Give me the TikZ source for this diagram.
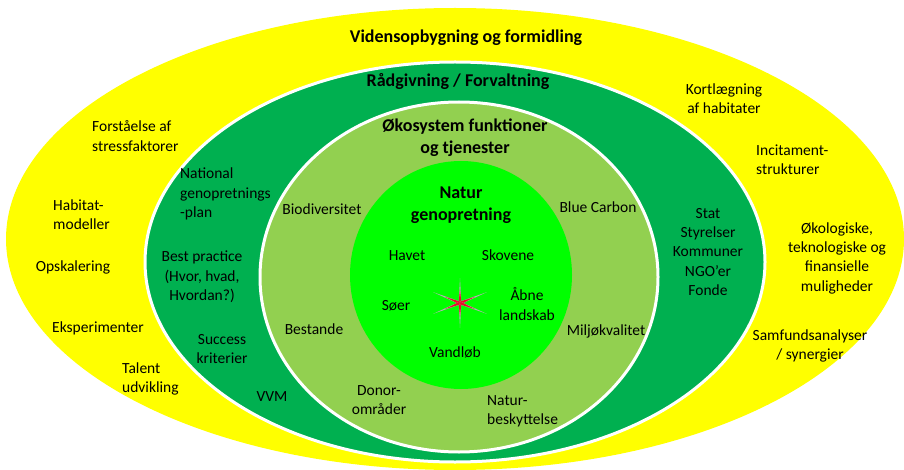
\documentclass[tikz,border=0pt]{standalone}
\usepackage{fontspec}
\setmainfont{Carlito}
\usepackage{tikz}
\usetikzlibrary{positioning}
\usetikzlibrary{calc}

\definecolor{ringyellow}{HTML}{FFFF00}
\definecolor{ringdark}{HTML}{00B050}
\definecolor{ringlight}{HTML}{92D050}
\definecolor{ringcore}{HTML}{00FF00}
\definecolor{starred}{HTML}{E8102A}

\begin{document}
\begin{tikzpicture}[
  x=1pt, y=-1pt,
  ring/.style={draw=white, line width=3pt},
  lbl/.style={font=\fontsize{15.5}{19.3}\selectfont, align=center, inner sep=0pt},
  lbll/.style={lbl, align=left, anchor=west},
  ttl/.style={font=\bfseries\fontsize{18}{22}\selectfont, align=center, inner sep=0pt}
]
  \useasboundingbox (0,0) rectangle (904,470);

  % rings, outside in
  \fill[ringyellow] (455,239) ellipse [x radius=449pt, y radius=231pt];
  \filldraw[ringdark, ring] (455,262) ellipse [x radius=310pt, y radius=200pt];
  \filldraw[ringlight, ring] (459,277) ellipse [x radius=199pt, y radius=175pt];
  \fill[ringcore] (461,275) ellipse [x radius=111pt, y radius=114pt];

  % star in the core
  \coordinate (star) at (460,303);
  \foreach \a/\len in {90/25, 270/25, 22/29, 158/29, 202/29, 338/29} {
    \fill[gray!60] (star) -- ($(star)+(\a+90:1.4pt)$) -- ($(star)+(\a:\len pt)$) -- ($(star)+(\a-90:1.4pt)$) -- cycle;
    \fill[starred] ($(star)+(\a+90:1.4pt)$) -- ($(star)+(\a:0.55*\len pt)$) -- ($(star)+(\a-90:1.4pt)$) -- cycle;
  }

  % titles
  \node[ttl] (viden) at (466,38) {Vidensopbygning og formidling};
  \node[ttl] (raad) at (458,82) {Rådgivning / Forvaltning};
  \node[ttl] (oko) at (465,138) {Økosystem funktioner\\og tjenester};
  \node[ttl] (natur) at (461,205) {Natur\\genopretning};

  % core
  \node[lbl] (havet) at (407,256) {Havet};
  \node[lbl] (skov) at (508,255) {Skovene};
  \node[lbl] (soer) at (396,306) {Søer};
  \node[lbl] (aabne) at (527,304) {Åbne\\landskab};
  \node[lbl] (vand) at (455,352) {Vandløb};

  % light green ring
  \node[lbl] (bio) at (322,209) {Biodiversitet};
  \node[lbl] (blue) at (598,207) {Blue Carbon};
  \node[lbl] (best) at (314,329) {Bestande};
  \node[lbl] (milj) at (606,331) {Miljøkvalitet};
  \node[lbl] (donor) at (379,400) {Donor-\\områder};
  \node[lbll] (beskyt) at (487,411) {Natur-\\beskyttelse};

  % dark green ring
  \node[lbll] (nat) at (180,194) {National\\genopretnings\\-plan};
  \node[lbl] (bestp) at (202,277) {Best practice\\(Hvor, hvad,\\Hvordan?)};
  \node[lbl] (succ) at (222,349) {Success\\kriterier};
  \node[lbl] (vvm) at (272,397) {VVM};
  \node[lbl] (stat) at (708,252) {Stat\\Styrelser\\Kommuner\\NGO’er\\Fonde};

  % yellow ring
  \node[lbll] (forst) at (92,136) {Forståelse af\\stressfaktorer};
  \node[lbll] (habm) at (53,215) {Habitat-\\modeller};
  \node[lbl] (opsk) at (73,267) {Opskalering};
  \node[lbl] (eksp) at (98,328) {Eksperimenter};
  \node[lbll] (talent) at (122,379) {Talent\\udvikling};
  \node[lbl] (kort) at (724,99) {Kortlægning\\af habitater};
  \node[lbll] (incit) at (756,160) {Incitament-\\strukturer};
  \node[lbl] (okol) at (837,258) {Økologiske,\\teknologiske og\\finansielle\\muligheder};
  \node[lbl] (samf) at (810,346) {Samfundsanalyser\\/ synergier};
\end{tikzpicture}
\end{document}
